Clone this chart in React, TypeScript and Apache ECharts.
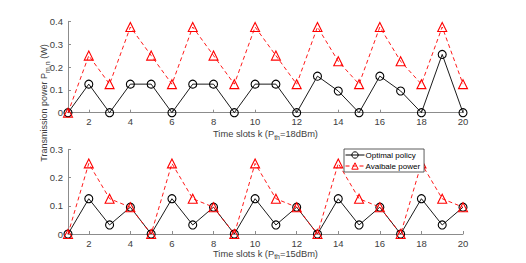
import React, { useEffect, useRef } from "react";
import * as echarts from "echarts";

const slots = [1, 2, 3, 4, 5, 6, 7, 8, 9, 10, 11, 12, 13, 14, 15, 16, 17, 18, 19, 20];
const topOptimal = [0, 0.125, 0, 0.125, 0.125, 0, 0.125, 0.125, 0, 0.125, 0.125, 0, 0.16, 0.095, 0, 0.16, 0.095, 0, 0.255, 0];
const topAvailable = [0, 0.25, 0.125, 0.375, 0.25, 0.125, 0.375, 0.25, 0.125, 0.375, 0.25, 0.125, 0.375, 0.225, 0.125, 0.375, 0.225, 0.125, 0.375, 0.125];
const bottomOptimal = [0, 0.125, 0.032, 0.095, 0, 0.125, 0.032, 0.095, 0, 0.125, 0.032, 0.095, 0, 0.125, 0.032, 0.095, 0, 0.125, 0.032, 0.095];
const bottomAvailable = [0, 0.25, 0.125, 0.095, 0, 0.25, 0.125, 0.095, 0, 0.25, 0.125, 0.095, 0, 0.25, 0.125, 0.095, 0, 0.25, 0.125, 0.095];
const xTickValues = [2, 4, 6, 8, 10, 12, 14, 16, 18, 20];
const topYTicks = [0, 0.1, 0.2, 0.3, 0.4];
const bottomYTicks = [0, 0.1, 0.2, 0.3];

const FONT = "Liberation Sans";
const AXIS_COLOR = "#8c8c8c";
const TEXT_COLOR = "#404040";

function pairs(ys: number[]) {
  return slots.map((x, i) => [x, ys[i]]);
}

export default function App() {
  const ref = useRef<HTMLDivElement>(null);
  useEffect(() => {
    if (!ref.current) return;
    const chart = echarts.init(ref.current, undefined, { renderer: "svg" });
    const rich = {
      s: { fontSize: 7, fontFamily: FONT, color: TEXT_COLOR, padding: [6, 0, 0, 0] },
    };
    const xAxisBase = (gridIndex: number, name: string, nameGap: number) => ({
      type: "value",
      gridIndex,
      min: 1,
      max: 20,
      name,
      nameLocation: "middle",
      nameGap,
      nameTextStyle: { fontFamily: FONT, fontSize: 9.3, color: TEXT_COLOR, rich },
      axisLine: { show: true, lineStyle: { color: AXIS_COLOR, width: 1 } },
      axisTick: { show: true, inside: true, length: 3, lineStyle: { color: AXIS_COLOR }, customValues: xTickValues },
      axisLabel: { fontFamily: FONT, fontSize: 9.5, color: TEXT_COLOR, margin: 4, customValues: xTickValues },
      splitLine: { show: false },
    });
    const yAxisBase = (gridIndex: number, max: number, ticks: number[]) => ({
      type: "value",
      gridIndex,
      min: 0,
      max,
      interval: 0.1,
      axisLine: { show: true, lineStyle: { color: AXIS_COLOR, width: 1 } },
      axisTick: { show: true, inside: true, length: 3, lineStyle: { color: AXIS_COLOR }, customValues: ticks },
      axisLabel: {
        fontFamily: FONT,
        fontSize: 9.5,
        color: TEXT_COLOR,
        margin: 5,
        customValues: ticks,
        formatter: (v: number) => (v === 0 ? "0" : String(Math.round(v * 10) / 10)),
      },
      splitLine: { show: false },
    });
    const optimalSeries = (idx: number, data: number[]) => ({
      name: "Optimal policy",
      type: "line",
      xAxisIndex: idx,
      yAxisIndex: idx,
      data: pairs(data),
      symbol: "circle",
      symbolSize: 8,
      lineStyle: { color: "#000", width: 0.9 },
      itemStyle: { color: "rgba(255,255,255,0)", borderColor: "#000", borderWidth: 1.1 },
      z: 2,
    });
    const availableSeries = (idx: number, data: number[]) => ({
      name: "Avaibale power",
      type: "line",
      xAxisIndex: idx,
      yAxisIndex: idx,
      data: pairs(data),
      symbol: "triangle",
      symbolSize: 9,
      lineStyle: { color: "#ff0000", width: 0.9, type: [4, 3] },
      itemStyle: { color: "rgba(255,255,255,0)", borderColor: "#ff0000", borderWidth: 1.1 },
      z: 3,
    });
    chart.setOption({
      animation: false,
      backgroundColor: "#fff",
      grid: [
        { left: 68, right: 63, top: 21.3, height: 91.4 },
        { left: 68, right: 63, top: 149.3, height: 84.7 },
      ],
      xAxis: [
        xAxisBase(0, "Time slots k (P{s|th}=18dBm)", 15),
        xAxisBase(1, "Time slots k (P{s|th}=15dBm)", 13),
      ],
      yAxis: [yAxisBase(0, 0.4, topYTicks), yAxisBase(1, 0.3, bottomYTicks)],
      legend: {
        data: ["Optimal policy", "Avaibale power"],
        orient: "vertical",
        left: 344,
        top: 149,
        padding: [2, 4, 2, 1],
        itemGap: 3,
        itemWidth: 19,
        itemHeight: 8,
        borderColor: "#333",
        borderWidth: 0.8,
        backgroundColor: "#fff",
        itemStyle: { color: "rgba(255,255,255,0)", borderWidth: 1 },
        lineStyle: { width: 1 },
        textStyle: { fontFamily: FONT, fontSize: 8, color: "#000", padding: [0, 0, 0, -4] },
      },
      graphic: [
        {
          type: "text",
          x: 44,
          y: 103,
          rotation: Math.PI / 2,
          style: {
            text: "Transmission power P{s|m,n} (W)",
            fontFamily: FONT,
            fontSize: 9,
            fill: TEXT_COLOR,
            align: "center",
            verticalAlign: "middle",
            rich: { s: { fontSize: 7, fontFamily: FONT, fill: TEXT_COLOR, padding: [6, 0, 0, 0] } },
          },
        },
      ],
      series: [
        optimalSeries(0, topOptimal),
        availableSeries(0, topAvailable),
        optimalSeries(1, bottomOptimal),
        availableSeries(1, bottomAvailable),
      ],
    });
    return () => chart.dispose();
  }, []);
  return <div ref={ref} style={{ position: "fixed", left: 0, top: 0, width: 526, height: 263 }} />;
}
